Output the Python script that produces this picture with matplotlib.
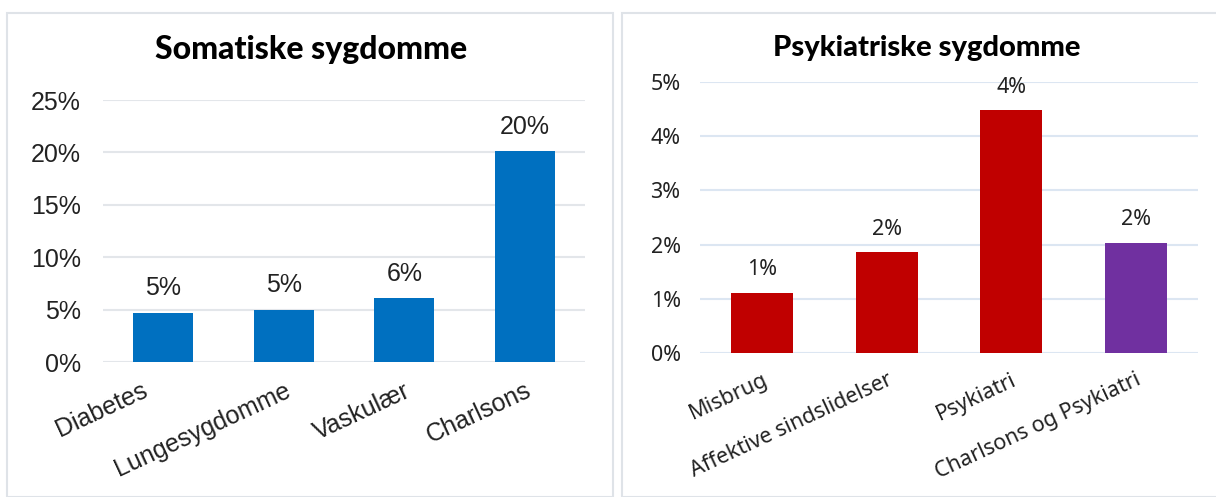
import matplotlib.pyplot as plt
from matplotlib.patches import Rectangle
from matplotlib.transforms import ScaledTranslation

# data
som_cats = ['Diabetes', 'Lungesygdomme', 'Vaskulær', 'Charlsons']
som_vals = [4.7, 5.0, 6.1, 20.1]

psy_cats = ['Misbrug', 'Affektive sindslidelser', 'Psykiatri', 'Charlsons og Psykiatri']
psy_vals = [1.11, 1.86, 4.48, 2.03]
psy_colors = ['#C00000', '#C00000', '#C00000', '#7030A0']

fig = plt.figure(figsize=(12.16, 4.97), dpi=100)

# panel frames
for x0, w in [(7 / 1216, 606 / 1216), (622 / 1216, 600 / 1216)]:
    fig.patches.append(Rectangle((x0, 0), w, 484 / 497, transform=fig.transFigure,
                                 fill=False, edgecolor='#dfe3e8', linewidth=1.5))


def panel(ax, cats, vals, colors, ymax, step, title, title_xy, title_size,
          grid_col, tickfont, fs, ypad):
    x = range(len(cats))
    bars = ax.bar(x, vals, width=0.5, color=colors, zorder=3)
    for b, v in zip(bars, vals):
        ax.annotate(f"{round(v)}%", (b.get_x() + b.get_width() / 2, v),
                    xytext=(0, 9), textcoords='offset points', ha='center', va='bottom',
                    fontsize=fs, family=tickfont, color='#222222')
    ax.set_xlim(-0.5, len(cats) - 0.5)
    ax.set_ylim(0, ymax)
    ticks = [i * step for i in range(int(ymax / step) + 1)]
    ax.set_yticks(ticks)
    ax.set_yticklabels([f"{t:g}%" for t in ticks], fontsize=fs, family=tickfont, color='#222222')
    ax.set_xticks(list(x))
    ax.set_xticklabels(cats, rotation=25, ha='right', rotation_mode='anchor',
                       fontsize=fs, family=tickfont, color='#222222')
    ax.tick_params(axis='x', length=0, pad=12)
    ax.tick_params(axis='y', length=0, pad=ypad)
    ax.grid(axis='y', color=grid_col, linewidth=1.5, zorder=0)
    for s in ax.spines.values():
        s.set_visible(False)
    fig.text(title_xy[0], title_xy[1], title, ha='center', va='center',
             fontsize=title_size, fontweight='black', family='Lato')


ax1 = fig.add_axes([103 / 1216, 135 / 497, 482 / 1216, 262 / 497])
panel(ax1, som_cats, som_vals, '#0070C0', 25, 5, 'Somatiske sygdomme',
      (311 / 1216, 1 - 50 / 497), 23, '#e3e6ea', 'Liberation Sans', 18, 16)
# first category label sits a little further left in the original
lab = ax1.get_xticklabels()[0]
lab.set_transform(lab.get_transform() + ScaledTranslation(-22 / 100, 0, fig.dpi_scale_trans))

ax2 = fig.add_axes([700 / 1216, 144 / 497, 498 / 1216, 271 / 497])
panel(ax2, psy_cats, psy_vals, psy_colors, 5, 1, 'Psykiatriske sygdomme',
      (927 / 1216, 1 - 48 / 497), 21, '#dce6f2', 'Noto Sans', 15.5, 14)

fig.savefig('out.png', dpi=100)
